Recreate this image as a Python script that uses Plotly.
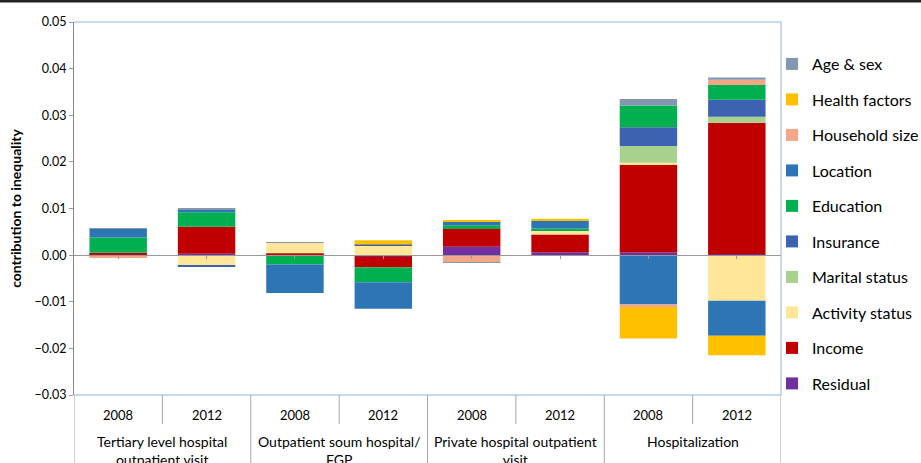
import plotly.graph_objects as go

# categories: (group, year)
years = ["2008", "2012", "2008", "2012", "2008", "2012", "2008", "2012"]
groups = ["Tertiary level hospital<br>outpatient visit",
          "Outpatient soum hospital/<br>FGP",
          "Private hospital outpatient<br>visit",
          "Hospitalization"]

# series values (T08, T12, O08, O12, P08, P12, H08, H12)
residual  = [0.0001, 0.0003, 0.0001, -0.0003, 0.0018, 0.0006, 0.0006, 0.0002]
income    = [0.0004, 0.0058, 0.0003, -0.0023, 0.0038, 0.0038, 0.0188, 0.0282]
activity  = [-0.0003, -0.0022, 0.0022, 0.0021, 0.0, 0.0009, 0.0004, -0.0098]
marital   = [0.0, 0.0, 0.0, 0.0, 0.0, 0.0, 0.0036, 0.0013]
insurance = [0.0, -0.0003, 0.0, 0.0002, 0.0, 0.0, 0.0040, 0.0036]
education = [0.0033, 0.0031, -0.0020, -0.0032, 0.0008, 0.0004, 0.0047, 0.0032]
location  = [0.0019, 0.0006, -0.0061, -0.0057, 0.0009, 0.0016, -0.0106, -0.0075]
household = [-0.0002, 0.0, 0.0, 0.0, -0.0015, 0.0, -0.0005, 0.0011]
health    = [0.0, 0.0, 0.0, 0.0009, 0.0002, 0.0005, -0.0068, -0.0042]
agesex    = [0.0001, 0.0002, 0.0001, 0.0, -0.0001, 0.0, 0.0014, 0.0005]

series = [
    ("Residual", residual, "#7030A0"),
    ("Income", income, "#C00000"),
    ("Activity status", activity, "#FFE699"),
    ("Marital status", marital, "#A9D18E"),
    ("Insurance", insurance, "#3E62B2"),
    ("Education", education, "#00B050"),
    ("Location", location, "#2E75B6"),
    ("Household size", household, "#F4A688"),
    ("Health factors", health, "#FFC000"),
    ("Age & sex", agesex, "#8497B0"),
]

xs = list(range(len(years)))
fig = go.Figure()
for i, (name, vals, col) in enumerate(series):
    fig.add_trace(go.Bar(x=xs, y=vals, name=name, marker_color=col,
                         marker_line_width=0, legendgroup=name, legendrank=100 - i))

PW, PH = 707, 373
def py(pix):
    return (395 - pix) / PH

shapes = []
# plot border (light blue)
bc = "#8DB4E2"
shapes.append(dict(type="line", xref="paper", yref="paper", x0=0, x1=1, y0=1, y1=1, line=dict(color=bc, width=1)))
shapes.append(dict(type="line", xref="paper", yref="paper", x0=1, x1=1, y0=0, y1=1, line=dict(color=bc, width=1)))
shapes.append(dict(type="line", xref="paper", yref="paper", x0=0, x1=1, y0=0, y1=0, line=dict(color=bc, width=1)))
# top dark band
shapes.append(dict(type="rect", xref="paper", yref="paper", x0=-0.2, x1=1.3, y0=py(-2), y1=py(2.5),
                   fillcolor="#222222", line=dict(width=0)))
# category separators
sc = "#A6A6A6"
for i in range(9):
    xb = i - 0.5
    end = py(470) if i % 2 == 0 else py(424)
    shapes.append(dict(type="line", xref="x", yref="paper", x0=xb, x1=xb, y0=0, y1=end,
                       line=dict(color=sc, width=1)))

annotations = []
for i, yr in enumerate(years):
    annotations.append(dict(x=i, y=py(415), xref="x", yref="paper", text=yr, showarrow=False,
                            font=dict(size=13, color="#000000"), yanchor="middle"))
for g, lab in enumerate(groups):
    annotations.append(dict(x=2 * g + 0.5, y=py(431), xref="x", yref="paper", text=lab, showarrow=False,
                            font=dict(size=14, color="#000000"), yanchor="top", align="center"))

fig.update_layout(
    width=921, height=463,
    margin=dict(l=74, r=140, t=22, b=68, autoexpand=False),
    paper_bgcolor="white", plot_bgcolor="white",
    barmode="relative", bargap=0.35,
    font=dict(family="Lato, Open Sans, sans-serif", color="#000000"),
    xaxis=dict(range=[-0.5, 7.5], tickvals=xs, showticklabels=False, ticks="outside", ticklen=3,
               tickcolor="#999999", showline=True, linecolor="#999999", linewidth=1,
               anchor="free", position=0.375, showgrid=False, zeroline=False),
    yaxis=dict(range=[-0.03, 0.05], dtick=0.01, tickformat=".2f", showgrid=False, zeroline=False,
               showline=True, linecolor="#888888", linewidth=1, ticks="outside", ticklen=4,
               tickcolor="#999999", tickfont=dict(size=12.5),
               title=dict(text="<b>contribution to inequality</b>", font=dict(size=14), standoff=9)),
    legend=dict(x=(772 - 74) / PW, xanchor="left", y=py(47), yanchor="top",
                traceorder="grouped", tracegroupgap=11.7, font=dict(size=16),
                bgcolor="rgba(0,0,0,0)"),
    showlegend=True,
    shapes=shapes, annotations=annotations,
)

fig.write_html("out.html", config={"displayModeBar": False},
               post_script="document.body.style.margin='0';")
